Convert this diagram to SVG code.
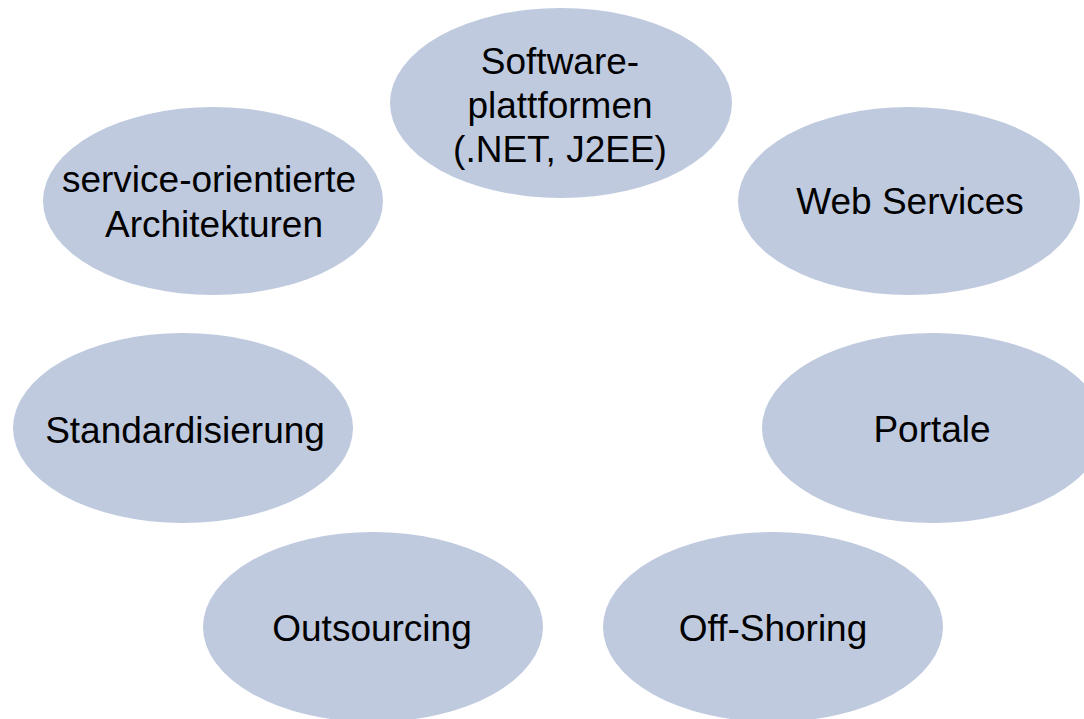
<svg xmlns="http://www.w3.org/2000/svg" width="1084" height="719" viewBox="0 0 1084 719">
<style>
.n{fill:#BFCADF;stroke:none}
.t{font-family:"Liberation Sans",Arial,sans-serif;font-size:37px;fill:#000;text-anchor:middle}
</style>
<rect width="1084" height="719" fill="#fff"/>
<g id="connectors"/>
<g id="node-software">
<ellipse class="n" cx="561" cy="103" rx="171" ry="95"/>
<text class="t" x="560" y="74">Software-</text>
<text class="t" x="560" y="118">plattformen</text>
<text class="t" x="560" y="162">(.NET, J2EE)</text>
</g>
<g id="node-webservices">
<ellipse class="n" cx="909" cy="201" rx="171" ry="94"/>
<text class="t" x="910" y="214">Web Services</text>
</g>
<g id="node-portale">
<ellipse class="n" cx="933" cy="428" rx="171" ry="95"/>
<text class="t" x="932" y="442">Portale</text>
</g>
<g id="node-offshoring">
<ellipse class="n" cx="773" cy="627" rx="170" ry="95"/>
<text class="t" x="773" y="641">Off-Shoring</text>
</g>
<g id="node-outsourcing">
<ellipse class="n" cx="373" cy="627" rx="170" ry="95"/>
<text class="t" x="372" y="641">Outsourcing</text>
</g>
<g id="node-standardisierung">
<ellipse class="n" cx="183" cy="428" rx="170" ry="95"/>
<text class="t" x="185" y="443">Standardisierung</text>
</g>
<g id="node-soa">
<ellipse class="n" cx="213" cy="201" rx="170" ry="94"/>
<text class="t" x="209" y="192">service-orientierte</text>
<text class="t" x="214" y="237">Architekturen</text>
</g>
</svg>
